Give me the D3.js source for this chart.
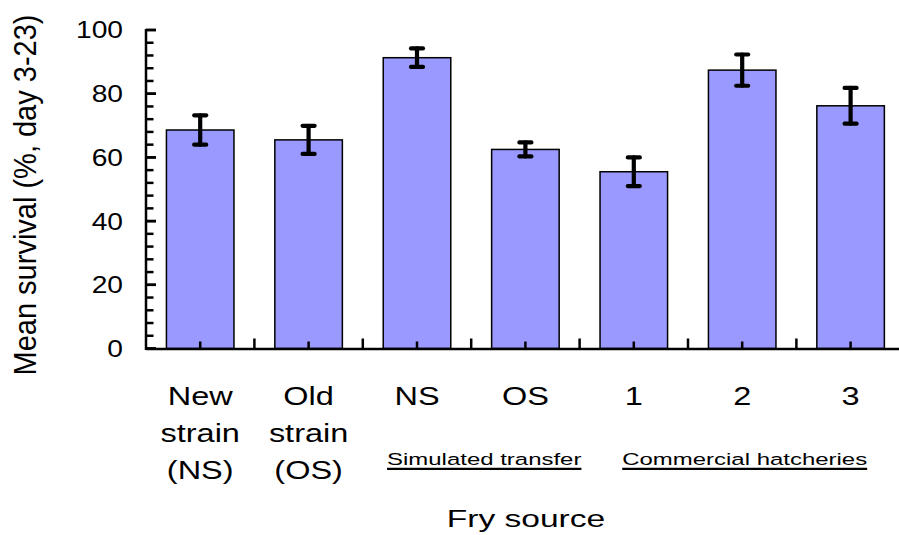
<!DOCTYPE html>
<html>
<head>
<meta charset="utf-8">
<script src="https://cdn.jsdelivr.net/npm/d3@7"></script>
<style>
  html, body { margin: 0; padding: 0; background: #fff; }
  svg { display: block; font-family: "Liberation Sans", Arial, sans-serif; }
</style>
</head>
<body>
<svg id="chart" width="899" height="535"></svg>
<script>
// Fry sources (multi-line category labels)
const categories = [
  ["New", "strain", "(NS)"],
  ["Old", "strain", "(OS)"],
  ["NS"],
  ["OS"],
  ["1"],
  ["2"],
  ["3"]
];
// Mean survival (%, day 3-23) and its error
const meanSurvival = [68.6, 65.5, 91.3, 62.5, 55.5, 87.4, 76.2];
const errorValues  = [4.6, 4.4, 2.9, 2.2, 4.5, 4.9, 5.6];
const yTickLabels  = [0, 20, 40, 60, 80, 100];
const groupLabels  = ["Simulated transfer", "Commercial hatcheries"];

const svg = d3.select("#chart");
const left = 146, zeroY = 348.5, topY = 30, step = 108.4;
const n = categories.length;

const x = d3.scaleBand()
  .domain(d3.range(n))
  .range([left, left + n * step])
  .paddingInner(0.377)
  .paddingOuter(0.377 / 2);

const y = d3.scaleLinear().domain([0, 100]).range([zeroY, topY]);

// Bars
svg.append("g").selectAll("rect")
  .data(meanSurvival)
  .join("rect")
  .attr("x", (d, i) => x(i))
  .attr("y", d => y(d))
  .attr("width", x.bandwidth())
  .attr("height", d => y(0) - y(d))
  .attr("fill", "#9999FF")
  .attr("stroke", "#000")
  .attr("stroke-width", 1.5);

// Error bars
const eb = svg.append("g")
  .attr("stroke", "#000")
  .attr("stroke-width", 4.2)
  .attr("stroke-linecap", "round");
meanSurvival.forEach((m, i) => {
  const cx = x(i) + x.bandwidth() / 2;
  const e = errorValues[i];
  eb.append("line").attr("x1", cx).attr("x2", cx).attr("y1", y(m + e)).attr("y2", y(m - e));
  [m + e, m - e].forEach(v => {
    eb.append("line").attr("x1", cx - 6).attr("x2", cx + 6).attr("y1", y(v)).attr("y2", y(v));
  });
});

// Y axis: major ticks every 20, minor ticks every 4, drawn inward
const yAxis = svg.append("g").attr("stroke", "#000").attr("stroke-width", 2.5);
yAxis.append("line").attr("x1", left).attr("x2", left).attr("y1", y(100) - 1).attr("y2", zeroY + 1.5);
d3.range(0, 101, 4).concat(yTickLabels).forEach(v => {
  const major = v % 20 === 0;
  yAxis.append("line")
    .attr("x1", left).attr("x2", left + (major ? 10 : 7.5))
    .attr("y1", y(v)).attr("y2", y(v));
});

svg.append("g").selectAll("text")
  .data(yTickLabels)
  .join("text")
  .attr("transform", d => `translate(123,${y(d)}) scale(1.2,1)`)
  .attr("dy", "0.36em")
  .attr("text-anchor", "end")
  .attr("font-size", 23.5)
  .attr("fill", "#000")
  .text(d => d);

// X axis with ticks at band centres and boundaries, pointing up
const xAxis = svg.append("g").attr("stroke", "#000").attr("stroke-width", 2.5);
xAxis.append("line").attr("x1", left).attr("x2", 899).attr("y1", zeroY + 0.5).attr("y2", zeroY + 0.5);
d3.range(n).forEach(i => {
  const cx = x(i) + x.bandwidth() / 2;
  xAxis.append("line").attr("x1", cx).attr("x2", cx).attr("y1", zeroY).attr("y2", zeroY - 7);
  if (i > 0) {
    const bx = cx - step / 2;
    xAxis.append("line").attr("x1", bx).attr("x2", bx).attr("y1", zeroY).attr("y2", zeroY - 10);
  }
});

// Category labels
const lineBase = [404.5, 441.5, 478.5];
categories.forEach((lines, i) => {
  const cx = x(i) + x.bandwidth() / 2;
  lines.forEach((t, k) => {
    svg.append("text")
      .attr("transform", `translate(${cx},${lineBase[k]}) scale(1.3,1)`)
      .attr("text-anchor", "middle")
      .attr("font-size", 25)
      .attr("fill", "#000")
      .text(t);
  });
});

// Underlined group labels
const groupCentres = [
  (x(2) + x(3)) / 2 + x.bandwidth() / 2 + 13,
  x(5) + x.bandwidth() / 2 + 2.5
];
groupLabels.forEach((t, i) => {
  const sx = 1.41;
  const txt = svg.append("text")
    .attr("transform", `translate(${groupCentres[i]},465) scale(${sx},1)`)
    .attr("text-anchor", "middle")
    .attr("font-size", 17)
    .attr("fill", "#000")
    .text(t);
  const w = txt.node().getComputedTextLength() * sx;
  svg.append("line")
    .attr("x1", groupCentres[i] - w / 2).attr("x2", groupCentres[i] + w / 2)
    .attr("y1", 468.8).attr("y2", 468.8)
    .attr("stroke", "#000").attr("stroke-width", 2.2);
});

// Axis titles
svg.append("text")
  .attr("transform", "translate(526,527) scale(1.37,1)")
  .attr("text-anchor", "middle")
  .attr("font-size", 24.5)
  .attr("fill", "#000")
  .text("Fry source");

svg.append("text")
  .attr("transform", "translate(36,195) rotate(-90) scale(1,1.09)")
  .attr("text-anchor", "middle")
  .attr("font-size", 29)
  .attr("fill", "#000")
  .text("Mean survival (%, day 3-23)");
</script>
</body>
</html>
